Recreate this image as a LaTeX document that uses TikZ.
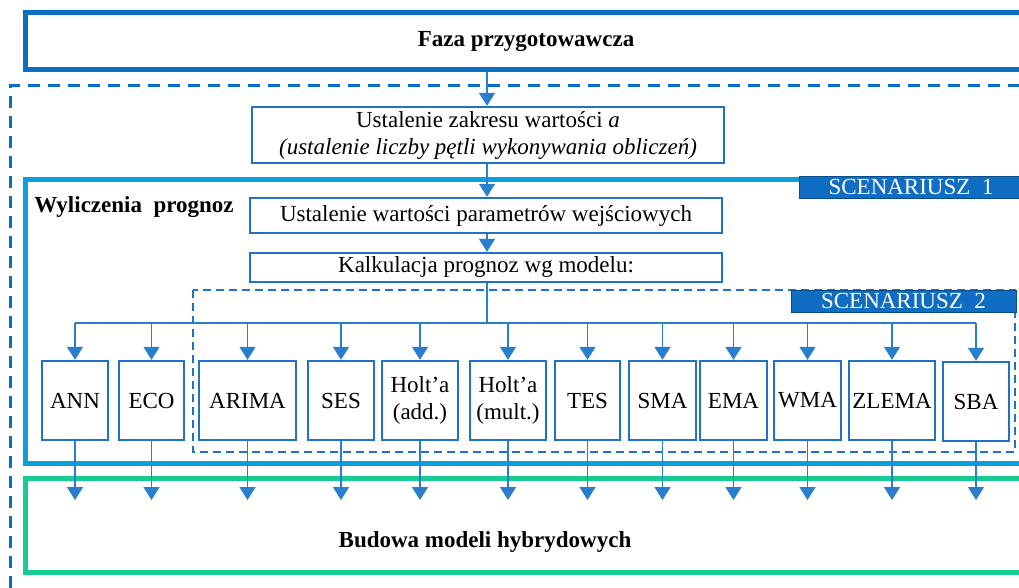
\documentclass[tikz,border=0pt]{standalone}
\usepackage{fontspec}
\setmainfont{Liberation Serif}
\usetikzlibrary{arrows.meta}
\definecolor{faza}{HTML}{0A6FC2}
\definecolor{scenone}{HTML}{0AA0DC}
\definecolor{boxblue}{HTML}{1E73C8}
\definecolor{linkblue}{HTML}{2A7ED0}
\definecolor{hybrid}{HTML}{14CC94}
\definecolor{tagfill}{HTML}{106DC4}
\begin{document}
\begin{tikzpicture}[x=1pt,y=-1pt,
  txt/.style={font=\fontsize{23}{27}\selectfont},
  stepbox/.style={txt,draw=boxblue,line width=2.4pt,inner sep=0pt,align=center},
  model/.style={stepbox,minimum height=79pt},
  tag/.style={txt,fill=tagfill,draw=faza!70!black,line width=0.8pt,text=white,inner sep=0pt,minimum height=22pt},
  arr/.style={draw=linkblue,line width=1.5pt,-{Triangle[width=16pt,length=13pt]}},
  link/.style={draw=linkblue,line width=1.5pt}]
\useasboundingbox (0,0) rectangle (1019,588);
\clip (0,0) rectangle (1019,588);
\fill[white] (0,0) rectangle (1019,588);

% preparation phase
\node[txt,draw=faza,line width=5pt,minimum width=1002pt,minimum height=57pt,font=\fontsize{23}{27}\selectfont\bfseries]
  (faza) at (526,41.5) {Faza przygotowawcza};

% outer dashed frame
\draw[faza,line width=3pt,dash pattern=on 12pt off 8pt] (1040,86) -- (10,86) -- (10,600);

% range of a
\node[stepbox,minimum width=472pt,minimum height=56pt] (zak) at (488,135)
  {Ustalenie zakresu wartości \textit{a}\\\textit{(ustalenie liczby pętli wykonywania obliczeń)}};

% scenario 1 frame
\draw[scenone,line width=5pt] (1040,180) -- (25,180) -- (25,463) -- (1040,463);
\node[tag,minimum width=224pt] (sc1) at (911,187) {SCENARIUSZ\ \ 1};
\node[txt,font=\fontsize{23}{27}\selectfont\bfseries] (wyl) at (134,207) {Wyliczenia\ \ prognoz};

\node[stepbox,minimum width=472pt,minimum height=35pt] (par) at (486,215.5)
  {Ustalenie wartości parametrów wejściowych};
\node[stepbox,minimum width=472pt,minimum height=29pt] (kalk) at (486,267.5)
  {Kalkulacja prognoz wg modelu:};

% scenario 2 frame
\draw[boxblue,line width=2pt,dash pattern=on 8pt off 5pt] (193,290) rectangle (1015,452);
\node[tag,minimum width=225pt] (sc2) at (903.5,301) {SCENARIUSZ\ \ 2};

% models
\node[model,minimum width=66pt] (ann)   at (75,400.5)   {ANN};
\node[model,minimum width=65pt] (eco)   at (151.5,400.5) {ECO};
\node[model,minimum width=97pt] (arima) at (247.5,400.5) {ARIMA};
\node[model,minimum width=66pt] (ses)   at (341,400.5)  {SES};
\node[model,minimum width=76pt] (holta) at (420,400.5)  {Holt’a\\(add.)};
\node[model,minimum width=76pt] (holtm) at (508,400.5)  {Holt’a\\(mult.)};
\node[model,minimum width=65pt] (tes)   at (587.5,400.5) {TES};
\node[model,minimum width=67pt] (sma)   at (662.5,400.5) {SMA};
\node[model,minimum width=67pt] (ema)   at (733.5,400.5) {EMA};
\node[model,minimum width=67pt] (wma)   at (807.5,400.5) {WMA};
\node[model,minimum width=86pt] (zlema) at (892,400.5)  {ZLEMA};
\node[model,minimum width=66pt] (sba)   at (976,401.5)  {SBA};

% hybrid models
\draw[hybrid,line width=5pt] (1040,478) -- (25,478) -- (25,572) -- (1040,572);
\node[txt,font=\fontsize{23}{27}\selectfont\bfseries] (bud) at (485,542) {Budowa modeli hybrydowych};

% connectors
\coordinate (axis) at (487,0);
\coordinate (split) at (487,323);
\coordinate (tips) at (0,500);
\draw[arr] (faza.south -| axis) -- (zak.north -| axis);
\draw[arr] (zak.south -| axis) -- (par.north -| axis);
\draw[arr] (par.south -| axis) -- (kalk.north -| axis);
\draw[link] (kalk.south -| axis) -- (split);
\draw[link] (ann.north |- split) -- (sba.north |- split);
\foreach \m in {ann,eco,arima,ses,holta,holtm,tes,sma,ema,wma,zlema,sba}{
  \draw[arr] (\m.north |- split) -- (\m.north);
  \draw[arr] (\m.south) -- (\m.south |- tips);
}
\end{tikzpicture}
\end{document}
